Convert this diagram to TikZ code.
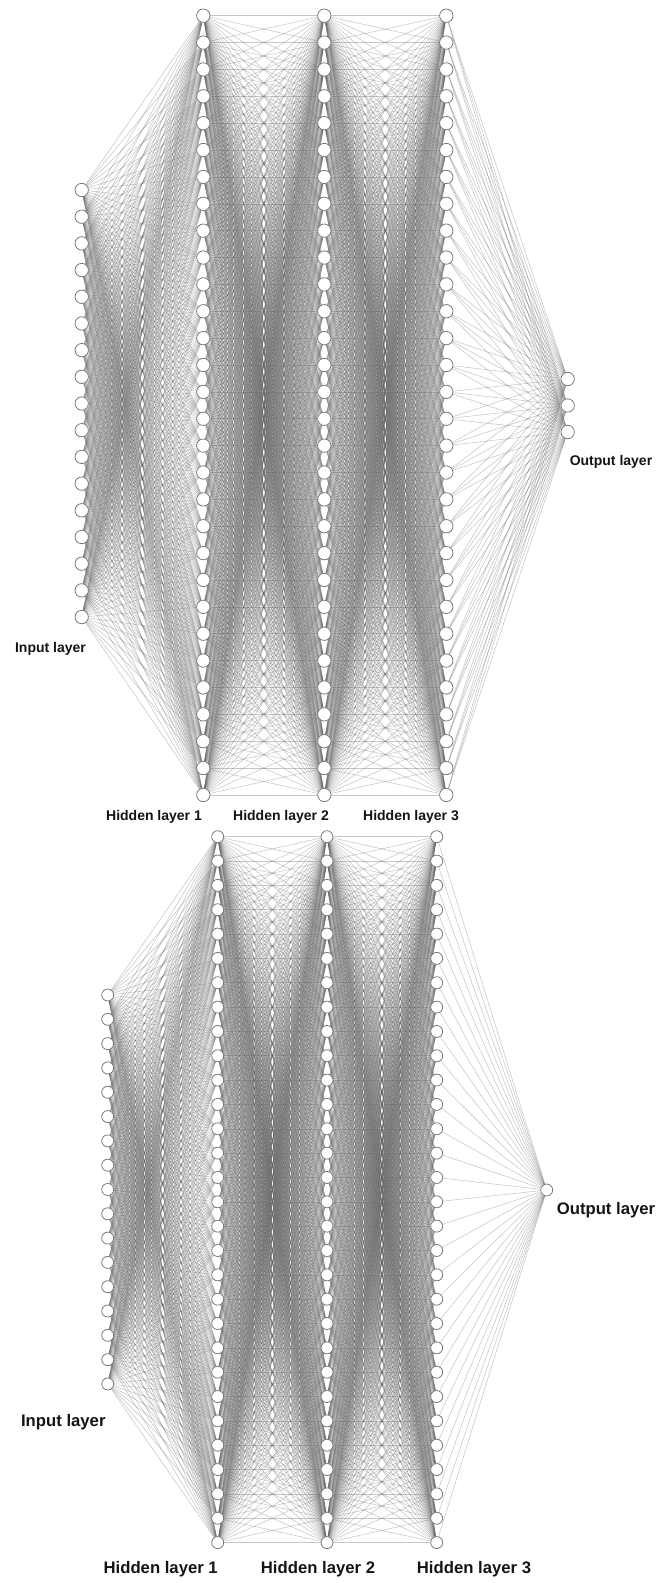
\documentclass[tikz,border=0pt]{standalone}
\usepackage{fontspec}
\setmainfont{Liberation Sans}
\pgfdeclarelayer{edges}
\pgfsetlayers{edges,main}
\tikzset{
  neuronA/.style={circle, draw=black!55, fill=white, line width=0.75pt, minimum size=13.4pt, inner sep=0pt},
  neuronB/.style={circle, draw=black!55, fill=white, line width=0.75pt, minimum size=12pt, inner sep=0pt},
  syn/.style={draw=black!62, line width=0.55pt, opacity=0.36},
  lblA/.style={font=\bfseries\fontsize{14}{16}\selectfont, text=black!92, inner sep=0pt},
  lblB/.style={font=\bfseries\fontsize{16.7}{19}\selectfont, text=black!92, inner sep=0pt},
}
\begin{document}
\begin{tikzpicture}[x=1pt,y=-1pt]
\useasboundingbox (0,0) rectangle (657,1583);
% ---------- top network ----------
\foreach \i in {1,...,17} \node[neuronA] (ti\i) at (81.7,{190+(\i-1)*26.69}) {};
\foreach \l/\x in {1/203.3,2/324.3,3/446.3}
  \foreach \i in {1,...,30} \node[neuronA] (th\l-\i) at (\x,{15.7+(\i-1)*26.87}) {};
\foreach \i/\y in {1/379,2/405.5,3/432} \node[neuronA] (to\i) at (567.7,\y) {};
\begin{pgfonlayer}{edges}
\foreach \a in {1,...,17} \foreach \b in {1,...,30} \draw[syn] (ti\a) -- (th1-\b);
\foreach \a in {1,...,30} \foreach \b in {1,...,30} \draw[syn] (th1-\a) -- (th2-\b);
\foreach \a in {1,...,30} \foreach \b in {1,...,30} \draw[syn] (th2-\a) -- (th3-\b);
\foreach \a in {1,...,30} \foreach \b in {1,2,3} \draw[syn] (th3-\a) -- (to\b);
\end{pgfonlayer}
\node[lblA] (tlin) at (50.5,649) {Input layer};
\node[lblA] (tlh1) at (154,817) {Hidden layer 1};
\node[lblA] (tlh2) at (281,817) {Hidden layer 2};
\node[lblA] (tlh3) at (411,817) {Hidden layer 3};
\node[lblA] (tlout) at (611,462) {Output layer};
% ---------- bottom network ----------
\foreach \i in {1,...,17} \node[neuronB] (bi\i) at (107.7,{995+(\i-1)*24.31}) {};
\foreach \l/\x in {1/217.7,2/327,3/436.7}
  \foreach \i in {1,...,30} \node[neuronB] (bh\l-\i) at (\x,{836.7+(\i-1)*24.34}) {};
\node[neuronB] (bo1) at (546.7,1190) {};
\begin{pgfonlayer}{edges}
\foreach \a in {1,...,17} \foreach \b in {1,...,30} \draw[syn] (bi\a) -- (bh1-\b);
\foreach \a in {1,...,30} \foreach \b in {1,...,30} \draw[syn] (bh1-\a) -- (bh2-\b);
\foreach \a in {1,...,30} \foreach \b in {1,...,30} \draw[syn] (bh2-\a) -- (bh3-\b);
\foreach \a in {1,...,30} \draw[syn] (bh3-\a) -- (bo1);
\end{pgfonlayer}
\node[lblB] (blin) at (63.3,1422) {Input layer};
\node[lblB] (blh1) at (160.7,1569) {Hidden layer 1};
\node[lblB] (blh2) at (318,1569) {Hidden layer 2};
\node[lblB] (blh3) at (474,1569) {Hidden layer 3};
\node[lblB] (blout) at (606,1210) {Output layer};
\end{tikzpicture}
\end{document}
